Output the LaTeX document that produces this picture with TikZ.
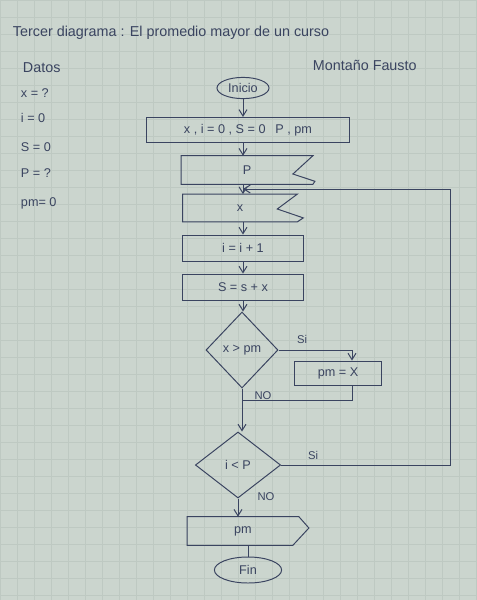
\documentclass[tikz,border=0pt]{standalone}
\usepackage{fontspec}
\setmainfont{Liberation Sans}
\usepackage{tikz}
\usetikzlibrary{calc,arrows.meta,positioning,shapes.geometric}
\definecolor{paper}{RGB}{203,213,206}
\definecolor{gridc}{RGB}{190,201,194}
\definecolor{ink}{RGB}{58,68,96}
\tikzset{
  pen/.style={draw=ink, line width=0.7pt},
  txt/.style={text=ink, font=\small},
  head/.style={text=ink, font=\fontsize{10.2}{12}\selectfont},
  procbox/.style={pen, txt, minimum height=0.65cm, inner sep=2pt},
  openbox/.style={txt, minimum height=0.7cm, inner sep=2pt},
  terminal/.style={pen, txt, ellipse, inner sep=1pt},
  decision/.style={pen, txt, diamond, inner sep=0pt},
  arr/.style={pen, -{Straight Barb[length=1.6mm,width=2mm]}},
  line/.style={pen},
  lbl/.style={txt, font=\footnotesize}
}
\begin{document}
\begin{tikzpicture}[x=0.025cm, y=-0.025cm]
  % paper
  \fill[paper] (0,0) rectangle (477,600);
  \useasboundingbox (0,0) rectangle (477,600);
  \foreach \g in {0,17,...,476} \draw[gridc, line width=0.3pt] (\g,0) -- (\g,600);
  \foreach \g in {0,17,...,599} \draw[gridc, line width=0.3pt] (0,\g) -- (477,\g);

  % header
  \node[head, anchor=west] (titulo) at (8,33) {Tercer diagrama : El promedio mayor de un curso};
  \node[head, anchor=west] (autor) at (308,65) {Montaño Fausto};
  \node[head, anchor=west] (datos) at (18,68) {Datos};
  \foreach \y/\d in {93/{x = ?}, 118/{i = 0}, 147/{S = 0}, 173/{P = ?}, 203/{pm= 0}} {
    \node[txt, anchor=west] at (16,\y) {\d};
  }

  % flow
  \node[terminal, minimum width=1.3cm, minimum height=0.53cm] (inicio) at (243,88) {Inicio};
  \node[procbox, minimum width=5.05cm, minimum height=0.63cm] (init) at (248,130) {x , i = 0 , S = 0 \enspace P , pm};
  \node[openbox, minimum width=3.28cm] (leerP) at (247,170) {P};
  \draw[pen] (leerP.north west) -- (leerP.north east) -- ($(leerP.east)+(-20,4)$)
    -- ($(leerP.south east)+(2,-3)$) -- (leerP.south east) -- (leerP.south west) -- cycle;
  \coordinate (junta) at (243,189);
  \node[openbox, minimum width=2.85cm, minimum height=0.68cm] (leerX) at (240,208) {x};
  \draw[pen] (leerX.north west) -- (leerX.north east) -- ($(leerX.east)+(-20,1)$)
    -- ($(leerX.south east)+(6,-4)$) -- (leerX.south east) -- (leerX.south west) -- cycle;
  \node[procbox, minimum width=3cm] (cont) at (243,248) {i = i + 1};
  \node[procbox, minimum width=3cm] (suma) at (243,287) {S = s + x};
  \node[decision, minimum width=1.8cm, minimum height=1.9cm] (cond1) at (242,350) {x > pm};
  \node[procbox, minimum width=2.15cm, minimum height=0.6cm] (asig) at (338,373) {pm = X};
  \coordinate (sib) at (352,350);
  \coordinate (union1) at (242,400);
  \node[decision, minimum width=2.13cm, minimum height=1.65cm] (cond2) at (238,465) {i < P};
  \coordinate (derecha) at (450,189);
  \node[openbox, minimum width=2.78cm] (salida) at (243,531) {pm};
  \draw[pen] (salida.north west) -- (salida.north east) -- ($(salida.east)+(10,-3)$)
    -- ($(salida.south east)+(-6,0)$) -- (salida.south west) -- cycle;
  \node[terminal, minimum width=1.68cm, minimum height=0.65cm] (fin) at (248,570) {Fin};

  % connectors
  \draw[arr] (inicio) -- (inicio |- init.north);
  \draw[arr] (inicio |- init.south) -- (inicio |- leerP.north);
  \draw[arr] (inicio |- leerP.south) -- (inicio |- leerX.north);
  \draw[arr] (inicio |- leerX.south) -- (cont);
  \draw[arr] (cont) -- (suma);
  \draw[arr] (suma) -- (suma.south |- cond1.north);
  \draw[arr] (cond1.east) -- (sib) -- (sib |- asig.north);
  \draw[line] (sib |- asig.south) |- (union1);
  \draw[line] (cond1.south) -- (union1);
  \draw[arr] (union1) -- (union1 |- cond2.north);
  \draw[arr] (cond2.east) -| (derecha) -- (junta);
  \draw[arr] (cond2.south) -- (cond2.south |- salida.north);
  \draw[line] (fin.north |- salida.south) -- (fin);

  % branch labels
  \node[lbl] at (302,339) {Si};
  \node[lbl] at (263,396) {NO};
  \node[lbl] at (313,455) {Si};
  \node[lbl] at (266,497) {NO};
\end{tikzpicture}
\end{document}
